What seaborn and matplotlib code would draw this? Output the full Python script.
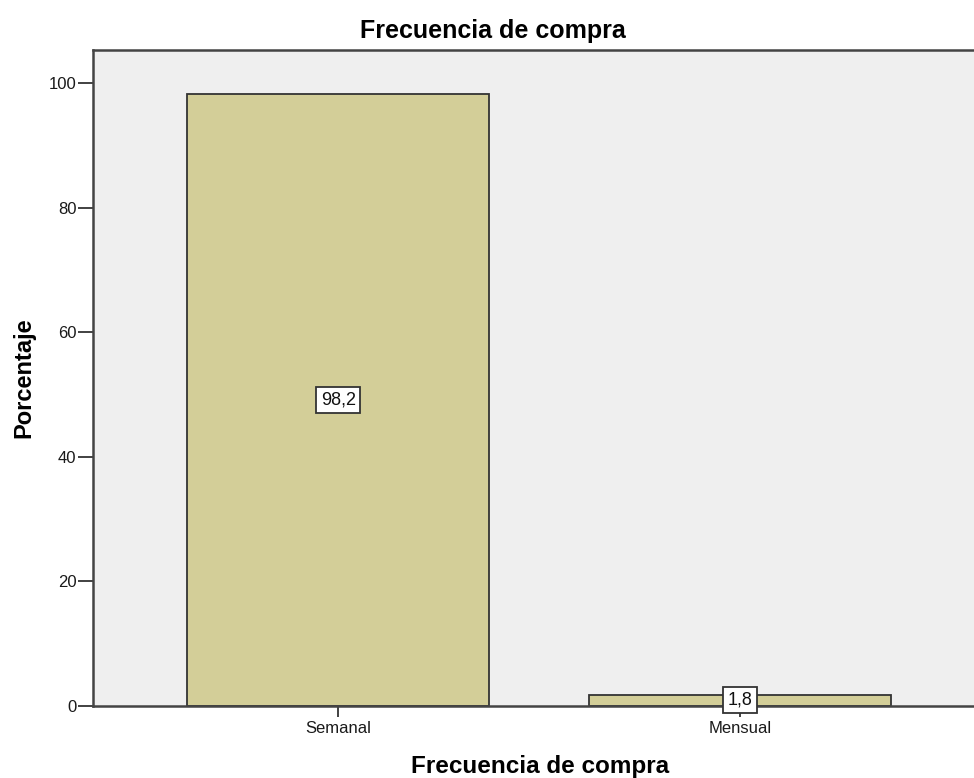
import matplotlib
matplotlib.use("Agg")
import matplotlib.pyplot as plt
import seaborn as sns
import pandas as pd

categories = ["Semanal", "Mensual"]
percentages = [98.2, 1.8]
value_labels = ["98,2", "1,8"]
y_ticks = [0, 20, 40, 60, 80, 100]

sns.set_style("white")
plt.rcParams["font.family"] = ["Liberation Sans", "DejaVu Sans"]
plt.rcParams["text.color"] = "black"
plt.rcParams["axes.labelcolor"] = "black"

df = pd.DataFrame({"Frecuencia de compra": categories, "Porcentaje": percentages})

fig = plt.figure(figsize=(9.74, 7.78), dpi=100)
ax = fig.add_axes([93 / 974, 1 - 706 / 778, 1 - 93 / 974, (706 - 50) / 778])
ax.set_facecolor("#efefef")

sns.barplot(data=df, x="Frecuencia de compra", y="Porcentaje", order=categories,
            color="#d3ce98", saturation=1, width=0.75, edgecolor="#333333",
            linewidth=1.3, ax=ax)

ax.set_xlim(-0.61, 1.582)
ax.set_ylim(0, 105.3)
ax.set_yticks(y_ticks)
ax.set_yticklabels([str(t) for t in y_ticks])
ax.tick_params(axis="y", direction="out", length=11, width=1.3, color="#333333",
               pad=1, left=True, labelsize=12, labelcolor="#1a1a1a")
ax.tick_params(axis="x", direction="out", length=8, width=1.3, color="#333333",
               pad=3, bottom=True, labelsize=12, labelcolor="#1a1a1a")

for side in ["left", "bottom", "top"]:
    ax.spines[side].set_visible(True)
    ax.spines[side].set_color("#444444")
    ax.spines[side].set_linewidth(1.8)
ax.spines["right"].set_visible(False)

for i, (v, lab) in enumerate(zip(percentages, value_labels)):
    ax.text(i, v / 2, lab, ha="center", va="center", fontsize=13, color="#111111",
            bbox=dict(boxstyle="square,pad=0.25", facecolor="white",
                      edgecolor="#333333", linewidth=1.3))

ax.set_xlabel("Frecuencia de compra", fontsize=17.5, fontweight="bold", va="center")
ax.xaxis.set_label_coords(540 / 974, 1 - 766 / 778, transform=fig.transFigure)
ax.set_ylabel("Porcentaje", fontsize=17, fontweight="bold", va="center")
ax.yaxis.set_label_coords(24 / 974, 1 - 378 / 778, transform=fig.transFigure)
fig.text(493 / 974, 1 - 31 / 778, "Frecuencia de compra", ha="center", va="center",
         fontsize=18, fontweight="bold")

fig.savefig("out.png", dpi=100)
